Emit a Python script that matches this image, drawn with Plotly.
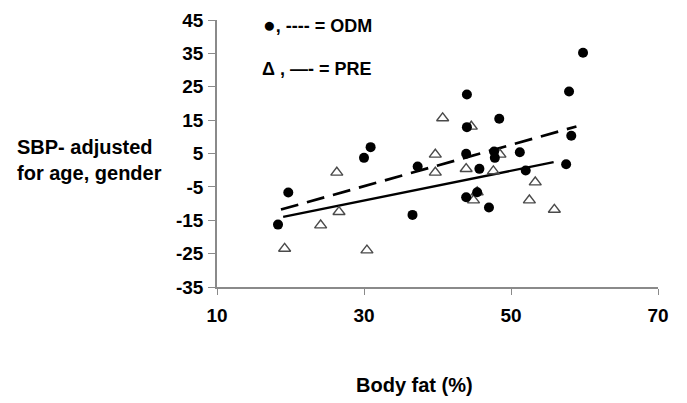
import plotly.graph_objects as go

# ODM (filled circles)
odm_x = [18.3, 19.7, 30.0, 30.9, 36.6, 37.3, 43.9, 44.0, 44.0, 43.9, 45.4, 45.7,
         47.0, 47.7, 47.8, 48.4, 51.2, 52.0, 57.5, 57.9, 58.2, 59.8]
odm_y = [-16.3, -6.7, 3.7, 6.9, -13.4, 1.1, -8.1, 12.9, 22.7, 4.9, -6.6, 0.4,
         -11.2, 5.6, 3.7, 15.4, 5.4, -0.1, 1.8, 23.6, 10.3, 35.2]

# PRE (open triangles)
pre_x = [19.2, 24.1, 26.3, 26.6, 30.4, 39.7, 39.7, 40.7, 43.9, 44.6, 44.9, 45.4,
         47.6, 48.5, 52.5, 53.3, 55.9]
pre_y = [-23.5, -16.5, -0.7, -12.5, -24.0, 4.7, -0.7, 15.6, 0.4, 13.1, -9.0, -6.6,
         -0.3, 4.7, -9.0, -3.6, -11.8]

# Regression lines (end points)
odm_fit_x = [18.7, 58.9]
odm_fit_y = [-11.8, 13.1]
pre_fit_x = [19.0, 55.8]
pre_fit_y = [-14.0, 2.4]

x_ticks = [10, 30, 50, 70]
y_ticks = [-35, -25, -15, -5, 5, 15, 25, 35, 45]
y_tick_text = ["-35", "-25", "-15", "-5", "5", "15", "25", "35", "45"]

FONT = "Liberation Sans, Arial, sans-serif"

fig = go.Figure()
fig.add_trace(go.Scatter(x=odm_fit_x, y=odm_fit_y, mode="lines",
                         line=dict(color="black", width=2.7, dash="18px,9px"),
                         hoverinfo="skip"))
fig.add_trace(go.Scatter(x=pre_fit_x, y=pre_fit_y, mode="lines",
                         line=dict(color="black", width=2.3),
                         hoverinfo="skip"))
fig.add_trace(go.Scatter(x=pre_x, y=pre_y, mode="markers",
                         marker=dict(symbol="triangle-up-open", size=10.5,
                                     color="#4a4a4a", line=dict(width=1.4))))
fig.add_trace(go.Scatter(x=odm_x, y=odm_y, mode="markers",
                         marker=dict(symbol="circle", size=10, color="black")))

axis_common = dict(showgrid=False, zeroline=False, showline=True, automargin=False,
                   linecolor="#8a8a8a", linewidth=1.5, ticks="outside",
                   tickcolor="#8a8a8a", tickwidth=1.2,
                   tickfont=dict(family=FONT, size=19, color="black", weight="bold"))

fig.update_xaxes(range=[10, 70], tickvals=x_ticks, ticklen=6,
                 ticklabelstandoff=4, **axis_common)
fig.update_yaxes(range=[-35, 45], tickvals=y_ticks, ticktext=y_tick_text, ticklen=7,
                 ticklabelstandoff=1, **axis_common)

ann_font = dict(family=FONT, size=20, color="black", weight="bold")
fig.add_annotation(text="SBP- adjusted<br>for age, gender", xref="paper", yref="paper",
                   x=-0.457, y=0.475, xanchor="left", yanchor="middle", showarrow=False,
                   align="left", font=ann_font)
fig.add_annotation(text="Body fat (%)", xref="paper", yref="paper",
                   x=0.447, y=-0.366, xanchor="center", yanchor="middle", showarrow=False,
                   font=ann_font)
leg_font = dict(family=FONT, size=18, color="black", weight="bold")
fig.add_annotation(text="<span style='font-size:21px'>●</span>, ---- = ODM",
                   xref="paper", yref="paper",
                   x=0.1, y=0.984, xanchor="left", yanchor="middle", showarrow=False,
                   font=leg_font)
fig.add_annotation(text="Δ , —- = PRE", xref="paper", yref="paper",
                   x=0.097, y=0.815, xanchor="left", yanchor="middle", showarrow=False,
                   font=leg_font)

# the page adds an 8px body margin, so the margins are offset by it
fig.update_layout(width=687, height=403, showlegend=False,
                  plot_bgcolor="white", paper_bgcolor="white",
                  margin=dict(l=209, r=37, t=11.5, b=124))

fig.write_html("out.html")
